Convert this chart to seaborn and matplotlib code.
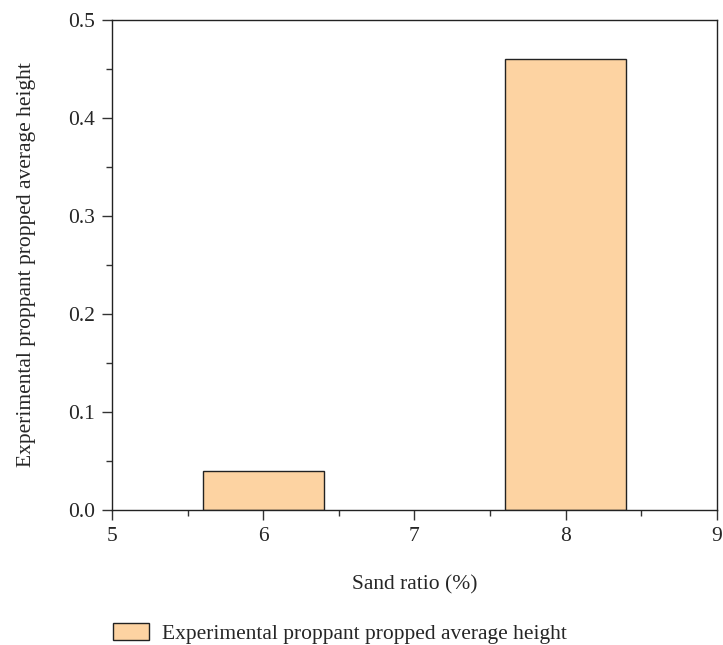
import matplotlib
matplotlib.use("Agg")
import matplotlib.pyplot as plt
from matplotlib.ticker import MultipleLocator
import seaborn as sns
import pandas as pd

sand_ratio = [6, 8]
avg_height = [0.04, 0.46]
series_name = "Experimental proppant propped average height"

sns.set_theme(style="white")
plt.rcParams['font.family'] = ['Liberation Serif', 'DejaVu Serif']

df = pd.DataFrame({"Sand ratio": sand_ratio, "Height": avg_height,
                   "Series": [series_name] * len(sand_ratio)})

fig = plt.figure(figsize=(7.23, 6.45), dpi=100)
ax = fig.add_axes([0.1549, 0.2093, 0.8368, 0.7597])

sns.barplot(data=df, x="Sand ratio", y="Height", hue="Series", native_scale=True,
            width=0.4, palette=["#FDD3A2"], saturation=1, edgecolor="#222222",
            linewidth=1.0, ax=ax, legend=True)

ax.set_xlim(5, 9)
ax.set_ylim(0, 0.5)
ax.xaxis.set_major_locator(MultipleLocator(1))
ax.xaxis.set_minor_locator(MultipleLocator(0.5))
ax.yaxis.set_major_locator(MultipleLocator(0.1))
ax.yaxis.set_minor_locator(MultipleLocator(0.05))
ax.yaxis.set_major_formatter(plt.FuncFormatter(lambda v, p: f"{v:.1f}"))
ax.tick_params(which="major", direction="out", length=7, width=1, color="#333333",
               labelsize=15.5, pad=5, bottom=True, left=True, top=False, right=False)
ax.tick_params(which="minor", direction="out", length=4, width=1, color="#333333",
               bottom=True, left=True, top=False, right=False)
for s in ax.spines.values():
    s.set_visible(True)
    s.set_color("#222222")
    s.set_linewidth(1.0)

ax.set_xlabel("Sand ratio (%)", fontsize=15.5, labelpad=21)
ax.set_ylabel("Experimental proppant propped average height", fontsize=15.5, labelpad=23)

leg = ax.get_legend()
if leg is not None:
    leg.remove()
handles, labels = ax.get_legend_handles_labels()
fig.legend(handles, labels, loc="lower left", bbox_to_anchor=(0.129, -0.028),
           frameon=False, fontsize=15.5, handlelength=1.7, handleheight=0.85,
           handletextpad=0.6)

fig.savefig("out.png", dpi=100)
